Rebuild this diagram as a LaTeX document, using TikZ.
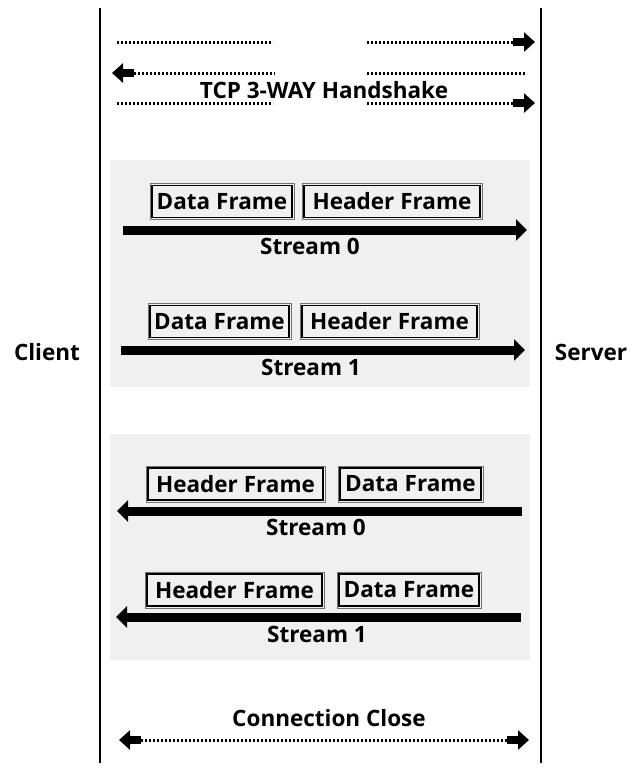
\documentclass[tikz,border=0pt]{standalone}
\usepackage{fontspec}
\setmainfont{Open Sans}[BoldFont={* Bold}]
\usetikzlibrary{arrows.meta}
\definecolor{panelgray}{HTML}{F0F0F0}
\tikzset{
  lifeline/.style={line width=2.6pt, black},
  label/.style={font=\fontsize{22.5}{25}\selectfont\bfseries, inner sep=0pt},
  framebox/.style={font=\fontsize{22.5}{25}\selectfont\bfseries, draw, line width=1.8pt,
    minimum height=32pt, inner sep=0pt, outer sep=0pt},
  frameouter/.style={draw=black!55, line width=0.6pt},
  dots/.style={line width=3pt, dash pattern=on 2.2pt off 1.8pt},
  blockhead/.style={line width=8pt, -{Triangle[length=11pt,width=19pt]}},
  stream/.style={line width=9pt, -{Triangle[length=11pt,width=21pt]}},
  panel/.style={fill=panelgray, draw=none}
}
\begin{document}
\begin{tikzpicture}[x=1pt,y=-1pt]
\useasboundingbox (0,0) rectangle (639,769);

% background panels for the two exchanges
\fill[panel] (110,160) rectangle (530,387);
\fill[panel] (110,434) rectangle (530,660);

% lifelines
\coordinate (ctop) at (100,8);
\coordinate (cbot) at (100,763);
\coordinate (stop) at (541,8);
\coordinate (sbot) at (541,763);
\draw[lifeline] (ctop) -- (cbot);
\draw[lifeline] (stop) -- (sbot);

\node[label] (client) at (47,352) {Client};
\node[label] (server) at (591,352) {Server};

% three-way handshake
\coordinate (h1a) at (117,42);  \coordinate (h1b) at (273,42);
\coordinate (h1c) at (367,42);  \coordinate (h1d) at (513,42); \coordinate (h1e) at (535,42);
\draw[dots] (h1a) -- (h1b);
\draw[dots] (h1c) -- (h1d);
\draw[blockhead] (h1d) -- (h1e);

\coordinate (h2a) at (112,73);  \coordinate (h2b) at (134,73); \coordinate (h2c) at (275,73);
\coordinate (h2d) at (367,73);  \coordinate (h2e) at (525,73);
\draw[blockhead] (h2b) -- (h2a);
\draw[dots] (h2b) -- (h2c);
\draw[dots] (h2d) -- (h2e);

\coordinate (h3a) at (117,103); \coordinate (h3b) at (273,103);
\coordinate (h3c) at (367,103); \coordinate (h3d) at (513,103); \coordinate (h3e) at (535,103);
\draw[dots] (h3a) -- (h3b);
\draw[dots] (h3c) -- (h3d);
\draw[blockhead] (h3d) -- (h3e);

\node[label] (tcp) at (324,90) {TCP 3-WAY Handshake};

% client -> server streams
\node[framebox, minimum width=140pt] (df0) at (222,201.5) {Data Frame};
\node[framebox, minimum width=176pt] (hf0) at (392,201.5) {Header Frame};
\coordinate (s0a) at (123,230); \coordinate (s0b) at (527,230);
\draw[stream] (s0a) -- (s0b);
\node[label] (st0) at (310,246) {Stream 0};

\node[framebox, minimum width=139pt] (df1) at (219.5,321.5) {Data Frame};
\node[framebox, minimum width=175pt] (hf1) at (389.5,321.5) {Header Frame};
\coordinate (s1a) at (121,350); \coordinate (s1b) at (525,350);
\draw[stream] (s1a) -- (s1b);
\node[label] (st1) at (311,367) {Stream 1};

% server -> client streams
\node[framebox, minimum width=175pt] (hf2) at (235.5,484) {Header Frame};
\node[framebox, minimum width=141pt] (df2) at (410.5,484) {Data Frame};
\coordinate (s2a) at (522,511); \coordinate (s2b) at (117,511);
\draw[stream] (s2a) -- (s2b);
\node[label] (st2) at (316,527) {Stream 0};

\node[framebox, minimum width=175pt] (hf3) at (234.5,590) {Header Frame};
\node[framebox, minimum width=140pt] (df3) at (409,590) {Data Frame};
\coordinate (s3a) at (521,617); \coordinate (s3b) at (116,617);
\draw[stream] (s3a) -- (s3b);
\node[label] (st3) at (317,634) {Stream 1};

% thin outer rule around every frame box
\foreach \n in {df0,hf0,df1,hf1,hf2,df2,hf3,df3}
  \draw[frameouter] ([xshift=-2.2pt,yshift=2.2pt]\n.north west)
    rectangle ([xshift=2.2pt,yshift=-2.2pt]\n.south east);

% connection close
\node[label] (close) at (329,718) {Connection Close};
\coordinate (c0) at (119,740); \coordinate (c1) at (141,740);
\coordinate (c2) at (507,740); \coordinate (c3) at (529,740);
\draw[dots] (c1) -- (c2);
\draw[blockhead] (c1) -- (c0);
\draw[blockhead] (c2) -- (c3);
\end{tikzpicture}
\end{document}
